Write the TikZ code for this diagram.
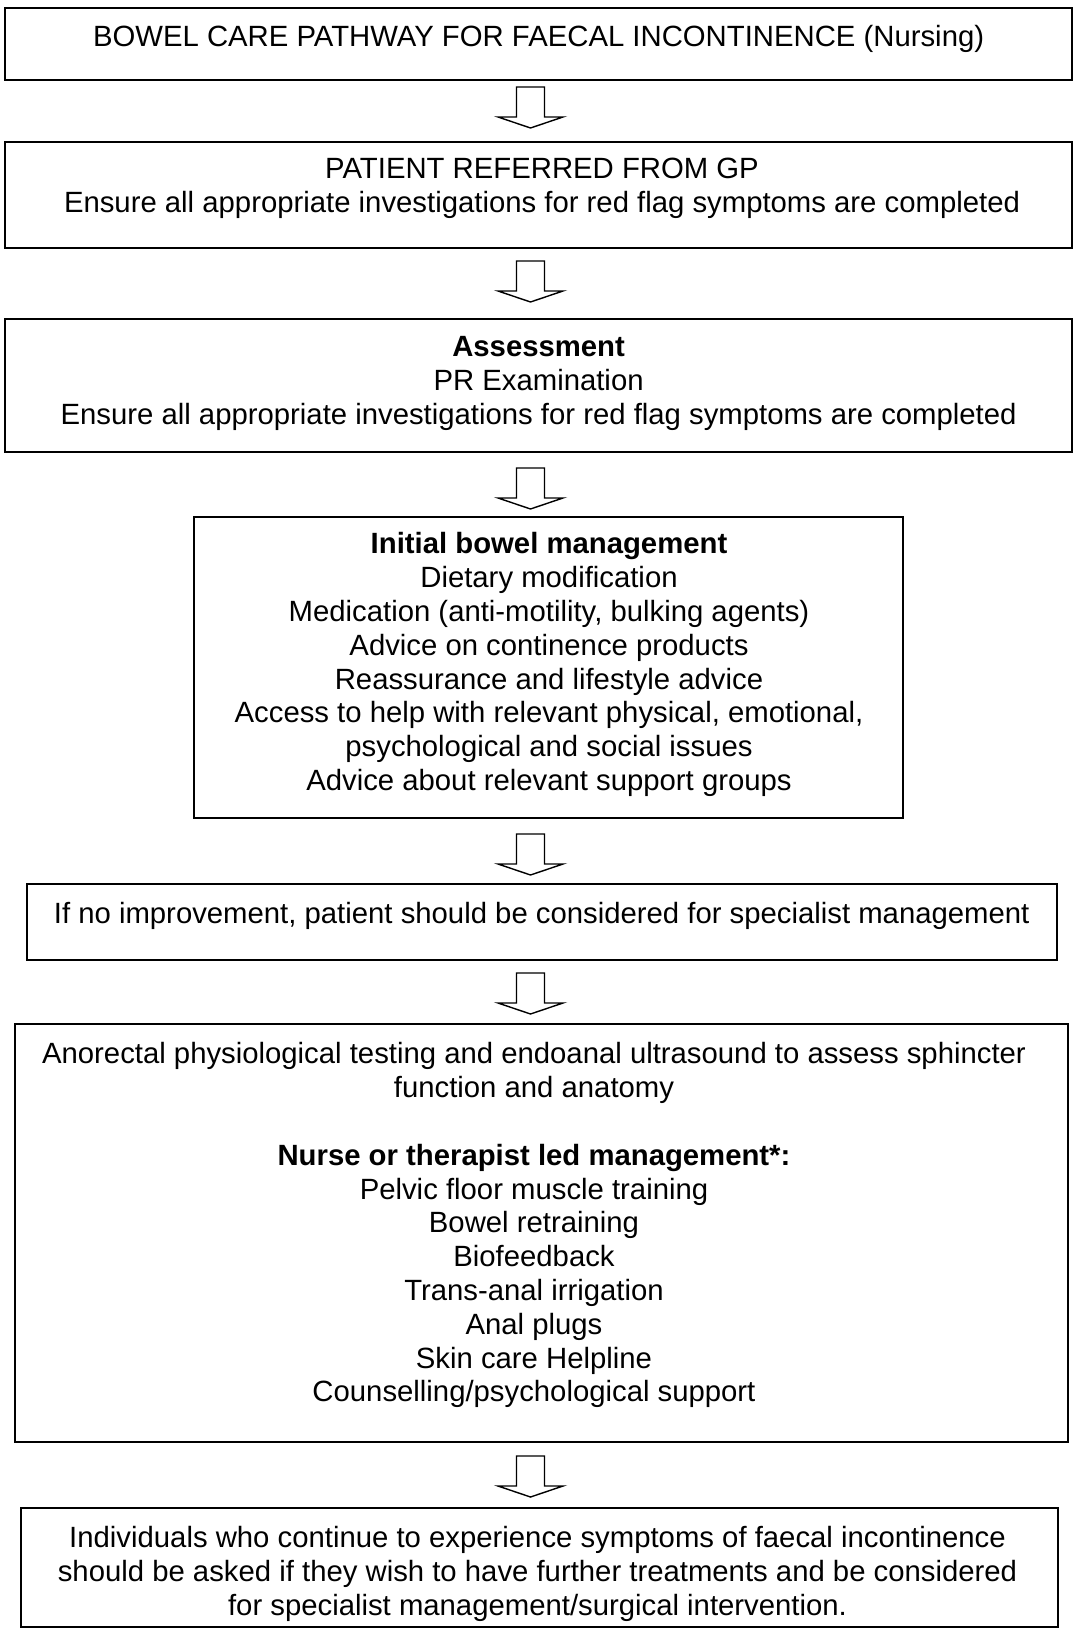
\documentclass[tikz,border=0pt]{standalone}
\usepackage{fontspec}
\setmainfont{Liberation Sans}
\begin{document}
\begin{tikzpicture}[x=1pt,y=1pt,
  box/.style={draw, line width=2pt, rectangle, inner sep=0pt},
  txt/.style={align=center, anchor=north, inner sep=0pt, font=\fontsize{29.3}{33.8}\selectfont},
  blockarrow/.pic={\draw[line width=1.4pt, line join=miter, fill=white] (-14,0) -- (14,0) -- (14,-30) -- (32.5,-30) -- (0,-41) -- (-32.5,-30) -- (-14,-30) -- cycle;}
]
\useasboundingbox (0,0) rectangle (1073,-1635);
% boxes
\node[box, minimum width=1067pt, minimum height=72pt] (b1) at (538.5,-44) {};
\node[box, minimum width=1067pt, minimum height=106pt] (b2) at (538.5,-195) {};
\node[box, minimum width=1067pt, minimum height=133pt] (b3) at (538.5,-385.5) {};
\node[box, minimum width=709pt, minimum height=301pt] (b4) at (548.5,-667.5) {};
\node[box, minimum width=1030pt, minimum height=76pt] (b5) at (542,-922) {};
\node[box, minimum width=1053pt, minimum height=418pt] (b6) at (541.5,-1233) {};
\node[box, minimum width=1037pt, minimum height=119pt] (b7) at (539.5,-1567.5) {};
% texts
\node[txt] (t1) at (538.6,-22.6) {\strut BOWEL CARE PATHWAY FOR FAECAL INCONTINENCE (Nursing)};
\node[txt] (t2) at (542,-155.1) {\strut PATIENT REFERRED FROM GP\\Ensure all appropriate investigations for red flag symptoms are completed};
\node[txt] (t3) at (538.6,-333.1) {\strut\textbf{Assessment}\\PR Examination\\Ensure all appropriate investigations for red flag symptoms are completed};
\node[txt] (t4) at (549,-530.1) {\strut\textbf{Initial bowel management}\\Dietary modification\\Medication (anti-motility, bulking agents)\\Advice on continence products\\Reassurance and lifestyle advice\\Access to help with relevant physical, emotional,\\psychological and social issues\\Advice about relevant support groups};
\node[txt] (t5) at (541.7,-899.6) {\strut If no improvement, patient should be considered for specialist management};
\node[txt] (t6) at (534,-1040.1) {\strut Anorectal physiological testing and endoanal ultrasound to assess sphincter\\function and anatomy\\[33.8pt]\textbf{Nurse or therapist led management*:}\\Pelvic floor muscle training\\Bowel retraining\\Biofeedback\\Trans-anal irrigation\\Anal plugs\\Skin care Helpline\\Counselling/psychological support};
\node[txt] (t7) at (537.5,-1524.1) {\strut Individuals who continue to experience symptoms of faecal incontinence\\should be asked if they wish to have further treatments and be considered\\for specialist management/surgical intervention.};
% arrows
\coordinate (a1) at (530.5,-87);
\coordinate (a2) at (530.5,-261);
\coordinate (a3) at (530.5,-468);
\coordinate (a4) at (530.5,-834);
\coordinate (a5) at (530.5,-973);
\coordinate (a6) at (530.5,-1456);
\pic at (a1) {blockarrow};
\pic at (a2) {blockarrow};
\pic at (a3) {blockarrow};
\pic at (a4) {blockarrow};
\pic at (a5) {blockarrow};
\pic at (a6) {blockarrow};
\end{tikzpicture}
\end{document}
